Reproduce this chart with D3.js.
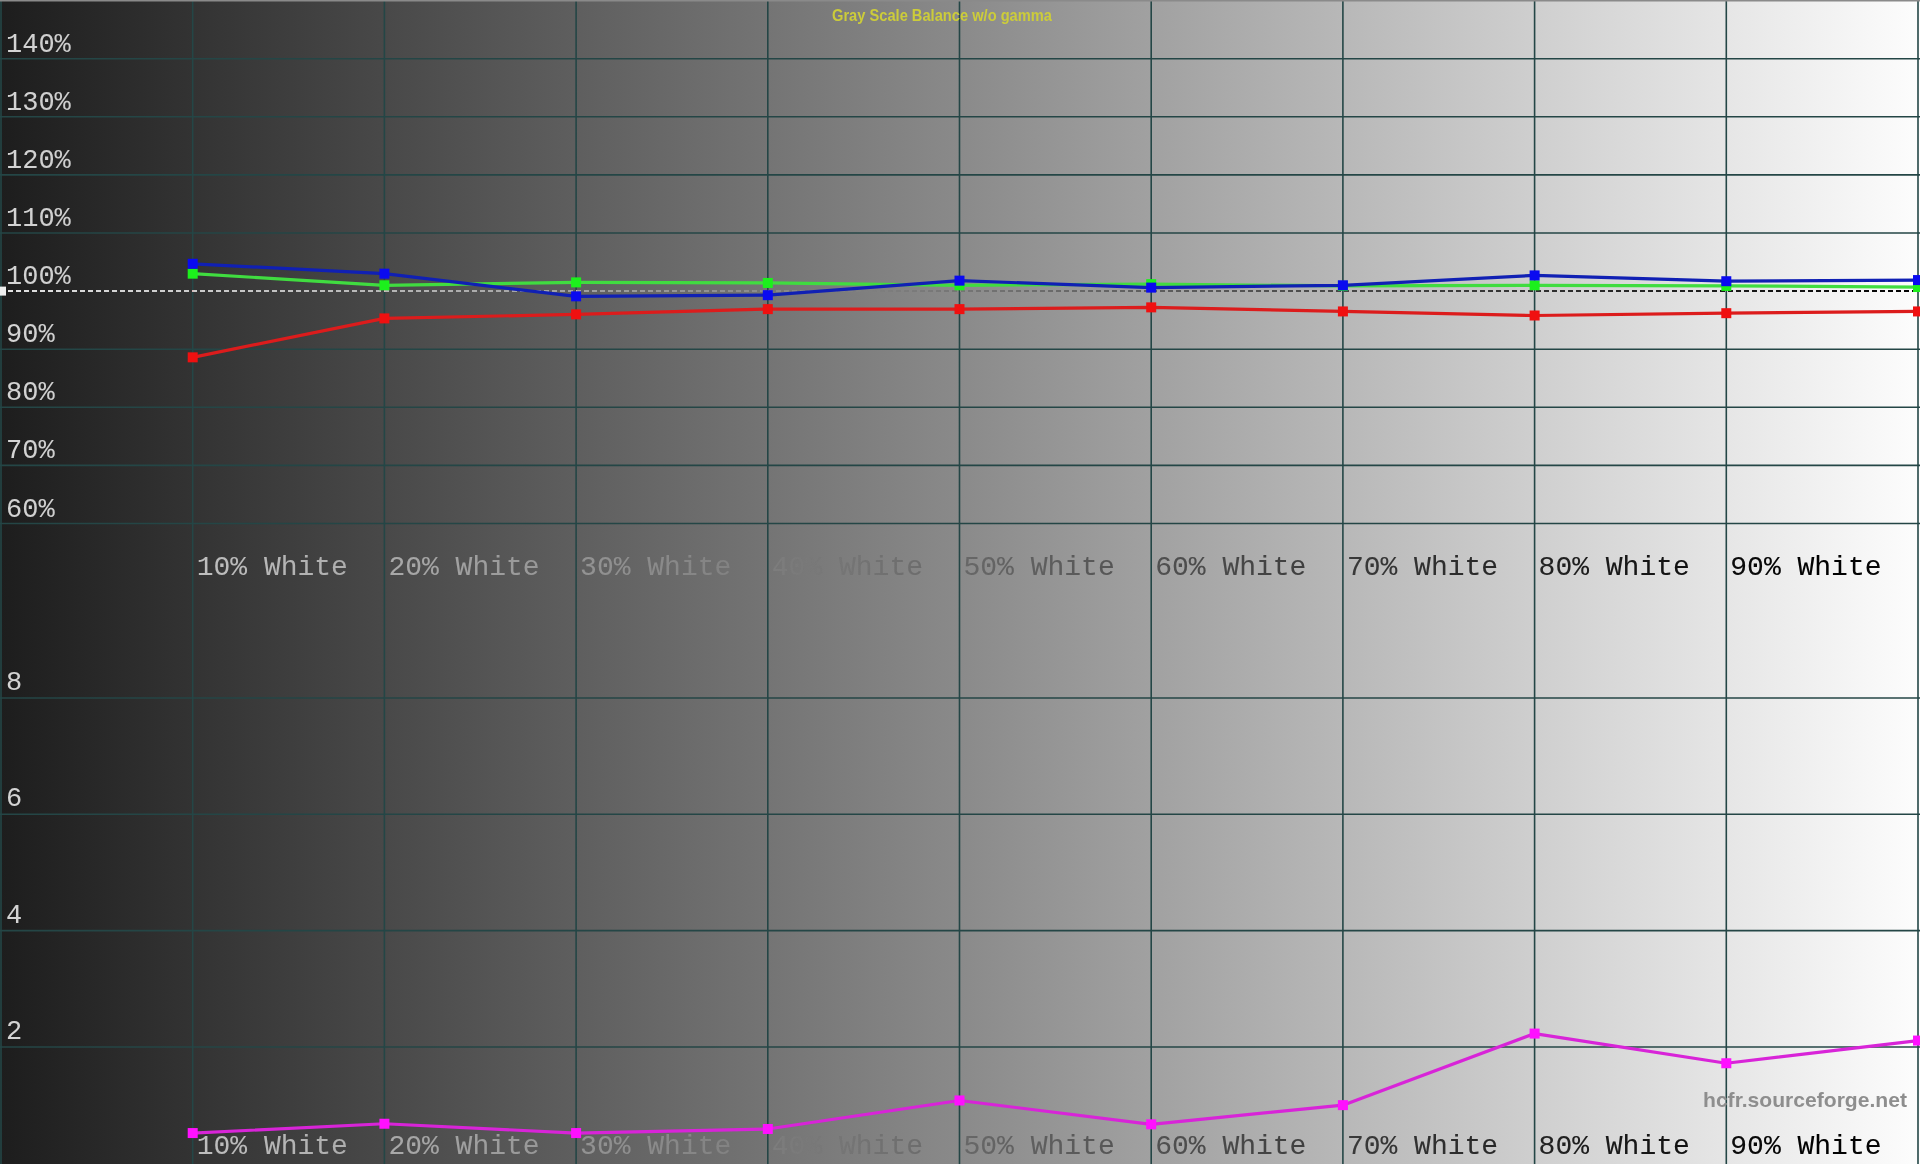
<!DOCTYPE html>
<html>
<head>
<meta charset="utf-8">
<script src="https://cdn.jsdelivr.net/npm/d3@7"></script>
<style>
  html, body { margin: 0; padding: 0; background: #000; overflow: hidden; }
  svg { display: block; }
  .inv { mix-blend-mode: difference; }
</style>
</head>
<body>
<svg id="chart" width="1920" height="1164"></svg>
<script>
// ---------------- data ----------------
const levels = [10, 20, 30, 40, 50, 60, 70, 80, 90, 100];
const xTickLabels = ["10% White", "20% White", "30% White", "40% White", "50% White",
                     "60% White", "70% White", "80% White", "90% White"];
const xTickLevels = [10, 20, 30, 40, 50, 60, 70, 80, 90];
const redBalance   = [88.6, 95.3, 96.0, 96.9, 96.9, 97.2, 96.5, 95.8, 96.2, 96.5];
const greenBalance = [103.0, 101.0, 101.5, 101.4, 101.0, 101.2, 100.9, 101.0, 100.9, 100.7];
const blueBalance  = [104.7, 103.0, 99.1, 99.3, 101.8, 100.6, 101.0, 102.7, 101.7, 101.9];
const deltaE       = [0.52, 0.68, 0.52, 0.59, 1.08, 0.67, 1.00, 2.23, 1.72, 2.11];
const upperTicks = [60, 70, 80, 90, 100, 110, 120, 130, 140];
const upperTickLabels = ["60%", "70%", "80%", "90%", "100%", "110%", "120%", "130%", "140%"];
const lowerTicks = [2, 4, 6, 8];
const lowerTickLabels = ["2", "4", "6", "8"];
const chartTitle = "Gray Scale Balance w/o gamma";
const watermark = "hcfr.sourceforge.net";

// ---------------- layout ----------------
const W = 1920, H = 1164;
const svg = d3.select("#chart");

const x = d3.scaleLinear().domain([0, 100]).range([1, 1918]);
const yTop = d3.scaleLinear().domain([50, 150]).range([581.6, 0.6]);
const yBot = d3.scaleLinear().domain([0, 10]).range([1163.3, 581.6]);

// background gradient
const defs = svg.append("defs");
const grad = defs.append("linearGradient").attr("id", "bg")
  .attr("x1", "0%").attr("x2", "100%").attr("y1", "0%").attr("y2", "0%");
grad.append("stop").attr("offset", "0%").attr("stop-color", "#1d1d1d");
grad.append("stop").attr("offset", "50%").attr("stop-color", "#8a8a8a");
grad.append("stop").attr("offset", "100%").attr("stop-color", "#fdfdfd");
svg.append("rect").attr("width", W).attr("height", H).attr("fill", "url(#bg)");

const gridColor = "#244646";

// horizontal grid - upper panel (solid except 100%)
svg.append("g").selectAll("line")
  .data(upperTicks.filter(v => v !== 100))
  .join("line")
  .attr("x1", 0).attr("x2", W)
  .attr("y1", d => yTop(d)).attr("y2", d => yTop(d))
  .attr("stroke", gridColor).attr("stroke-width", 1.6);

// horizontal grid - lower panel
svg.append("g").selectAll("line")
  .data(lowerTicks)
  .join("line")
  .attr("x1", 0).attr("x2", W)
  .attr("y1", d => yBot(d)).attr("y2", d => yBot(d))
  .attr("stroke", gridColor).attr("stroke-width", 1.6);

// vertical grid
svg.append("g").selectAll("line")
  .data([0].concat(levels))
  .join("line")
  .attr("x1", d => x(d)).attr("x2", d => x(d))
  .attr("y1", 0).attr("y2", H)
  .attr("stroke", gridColor).attr("stroke-width", 1.6);

// top border
svg.append("line").attr("x1", 0).attr("x2", W).attr("y1", 0.75).attr("y2", 0.75)
  .attr("stroke", "#8a8a8a").attr("stroke-width", 1.5);

// 100% reference dashed line (inverted against background)
svg.append("line").attr("class", "inv")
  .attr("x1", 0).attr("x2", W)
  .attr("y1", yTop(100)).attr("y2", yTop(100))
  .attr("stroke", "#ffffff").attr("stroke-width", 2)
  .attr("stroke-dasharray", "5,3");
svg.append("rect").attr("x", 0).attr("y", yTop(100) - 4.5).attr("width", 6).attr("height", 9)
  .attr("fill", "#eeeeee");

// axis labels (inverted text)
const monoFont = "'Liberation Mono', 'DejaVu Sans Mono', monospace";
const labelFill = "#f2f2f2";
svg.append("g").selectAll("text")
  .data(upperTicks)
  .join("text").attr("class", "inv")
  .attr("x", 6).attr("y", d => yTop(d) - 7)
  .attr("fill", labelFill)
  .style("font-family", monoFont).style("font-size", "27px")
  .text((d, i) => upperTickLabels[i]);

svg.append("g").selectAll("text")
  .data(lowerTicks)
  .join("text").attr("class", "inv")
  .attr("x", 6).attr("y", d => yBot(d) - 8)
  .attr("fill", labelFill)
  .style("font-family", monoFont).style("font-size", "27px")
  .text((d, i) => lowerTickLabels[i]);

[575, 1154].forEach(by => {
  svg.append("g").selectAll("text")
    .data(xTickLevels)
    .join("text").attr("class", "inv")
    .attr("x", d => x(d) + 4).attr("y", by)
    .attr("fill", labelFill)
    .style("font-family", monoFont).style("font-size", "28px")
    .text((d, i) => xTickLabels[i]);
});

// title
svg.append("text")
  .attr("x", 942).attr("y", 21).attr("text-anchor", "middle")
  .attr("fill", "#cccc3a")
  .attr("textLength", 220).attr("lengthAdjust", "spacingAndGlyphs")
  .style("font-family", "'Liberation Sans', Arial, sans-serif")
  .style("font-weight", "bold").style("font-size", "16px")
  .text(chartTitle);

// watermark
svg.append("text")
  .attr("x", 1703).attr("y", 1107)
  .attr("fill", "#8e8e8e")
  .attr("textLength", 204).attr("lengthAdjust", "spacingAndGlyphs")
  .style("font-family", "'Liberation Sans', Arial, sans-serif")
  .style("font-weight", "bold").style("font-size", "21px")
  .text(watermark);

// ---------------- series ----------------
function drawSeries(values, yScale, lineColor, markerColor) {
  const pts = levels.map((l, i) => [l, values[i]]);
  const line = d3.line().x(d => x(d[0])).y(d => yScale(d[1]));
  const g = svg.append("g");
  g.append("path").datum(pts)
    .attr("d", line).attr("fill", "none")
    .attr("stroke", lineColor).attr("stroke-width", 3.2)
    .attr("stroke-linejoin", "round");
  const s = 10;
  g.selectAll("rect").data(pts).join("rect")
    .attr("x", d => x(d[0]) - s / 2).attr("y", d => yScale(d[1]) - s / 2)
    .attr("width", s).attr("height", s)
    .attr("fill", markerColor);
}

drawSeries(redBalance, yTop, "#dc1c1c", "#f01010");
drawSeries(greenBalance, yTop, "#40dc40", "#1cf01c");
drawSeries(blueBalance, yTop, "#1020b4", "#0a0af0");
drawSeries(deltaE, yBot, "#d824d8", "#ff10ff");
</script>
</body>
</html>
